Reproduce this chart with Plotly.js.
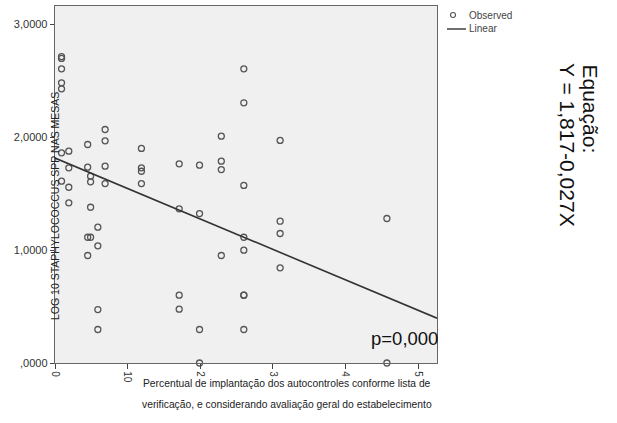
<!DOCTYPE html>
<html>
<head>
<meta charset="utf-8">
<script src="https://cdn.plot.ly/plotly-3.0.1.min.js"></script>
<style>html,body{margin:0;padding:0;background:#fff;}#chart{width:617px;height:423px;}</style>
</head>
<body>
<div id="chart"></div>
<script>
// Observed points (x = % implantação, y = log10 Staphylococcus spp)
const obsX = [
  0.9, 0.9, 0.9, 0.9, 0.9, 0.9, 0.9,
  1.9, 1.9, 1.9, 1.9,
  4.5, 4.5, 4.5, 4.5,
  4.9, 4.9, 4.9, 4.9,
  5.9, 5.9, 5.9, 5.9,
  6.9, 6.9, 6.9, 6.9,
  11.9, 11.9, 11.9, 11.9,
  17.1, 17.1, 17.1, 17.1,
  19.9, 19.9, 19.9, 19.9,
  22.9, 22.9, 22.9, 22.9,
  26.0, 26.0, 26.0, 26.0, 26.0, 26.0, 26.0, 26.0,
  31.0, 31.0, 31.0, 31.0,
  45.7, 45.7
];
const obsY = [
  2.717, 2.70, 2.608, 2.484, 2.431, 1.863, 1.612,
  1.878, 1.730, 1.558, 1.420,
  1.937, 1.736, 1.115, 0.953,
  1.656, 1.606, 1.381, 1.115,
  1.204, 1.039, 0.474, 0.297,
  2.070, 1.970, 1.745, 1.591,
  1.902, 1.730, 1.700, 1.591,
  1.766, 1.367, 0.601, 0.477,
  1.754, 1.325, 0.297, 0.0,
  2.011, 1.789, 1.715, 0.953,
  2.608, 2.307, 1.574, 1.115, 1.000, 0.601, 0.601, 0.297,
  1.973, 1.257, 1.148, 0.844,
  1.281, 0.0
];
// Linear fit line endpoints (Y = 1,817 - 0,027X)
const linX = [0, 52.6];
const linY = [1.817, 0.397];

const xTickVals = [0, 10, 20, 30, 40, 50];
const xTickText = ["0", "10", "20", "30", "40", "50"];
const yTickVals = [0, 1, 2, 3];
const yTickText = [",0000", "1,0000", "2,0000", "3,0000"];

const SANS = "'Liberation Sans', Arial, sans-serif";

const W = 617, H = 423, L = 55, R = 180, T = 6, B = 60;
const pw = W - L - R, ph = H - T - B;
const xp = px => (px - L) / pw;
const yp = py => (H - B - py) / ph;

const traces = [
  {
    x: obsX, y: obsY, type: 'scatter', mode: 'markers', name: 'Observed',
    marker: {symbol: 'circle-open', size: 6, color: '#555555', line: {width: 1.3, color: '#555555'}},
    cliponaxis: false, showlegend: false, hoverinfo: 'skip'
  },
  {
    x: linX, y: linY, type: 'scatter', mode: 'lines', name: 'Linear',
    line: {color: '#333333', width: 1.6}, showlegend: false, hoverinfo: 'skip'
  }
];

const layout = {
  width: W, height: H,
  margin: {l: L, r: R, t: T, b: B, pad: 0},
  paper_bgcolor: '#ffffff',
  plot_bgcolor: '#f0f0f0',
  font: {family: SANS, color: '#333'},
  showlegend: false,
  xaxis: {
    range: [0, 52.6], showgrid: false, zeroline: false,
    tickmode: 'array', tickvals: xTickVals, ticktext: xTickText,
    tickangle: 90, ticks: 'outside', ticklen: 5, tickcolor: '#444',
    tickfont: {size: 10, color: '#333', family: SANS},
    showline: true, linecolor: '#666', linewidth: 1.3, mirror: true
  },
  yaxis: {
    range: [0, 3.165], showgrid: false, zeroline: false,
    tickmode: 'array', tickvals: yTickVals, ticktext: yTickText,
    ticks: 'outside', ticklen: 4, tickcolor: '#444',
    tickfont: {size: 11, color: '#333', family: SANS},
    showline: true, linecolor: '#666', linewidth: 1.3, mirror: true
  },
  shapes: [
    {type: 'circle', xref: 'paper', yref: 'paper', x0: xp(450.5), x1: xp(455.5), y0: yp(17.5), y1: yp(12.5),
     line: {color: '#555', width: 1.1}},
    {type: 'line', xref: 'paper', yref: 'paper', x0: xp(447), x1: xp(466), y0: yp(29), y1: yp(29),
     line: {color: '#333', width: 1.4}}
  ],
  annotations: [
    {text: 'LOG 10 STAPHYLOCOCCUS SPP NAS MESAS', xref: 'paper', yref: 'paper', x: xp(55), y: yp(206),
     xanchor: 'center', yanchor: 'middle', textangle: -90, showarrow: false,
     font: {size: 10.5, color: '#222', family: SANS}},
    {text: 'Percentual de implantação dos autocontroles conforme lista de', xref: 'paper', yref: 'paper',
     x: xp(287), y: yp(383), xanchor: 'center', yanchor: 'middle', showarrow: false, bgcolor: '#ffffff',
     font: {size: 10.3, color: '#222', family: SANS}},
    {text: 'verificação, e considerando avaliação geral do estabelecimento', xref: 'paper', yref: 'paper',
     x: xp(287), y: yp(404), xanchor: 'center', yanchor: 'middle', showarrow: false,
     font: {size: 10.3, color: '#222', family: SANS}},
    {text: 'p=0,000', xref: 'paper', yref: 'paper', x: xp(440), y: yp(338), xanchor: 'right', yanchor: 'middle',
     showarrow: false, font: {size: 18.5, color: '#111', family: SANS}},
    {text: 'Observed', xref: 'paper', yref: 'paper', x: xp(467), y: yp(15), xanchor: 'left', yanchor: 'middle',
     showarrow: false, font: {size: 10, color: '#444', family: SANS}},
    {text: 'Linear', xref: 'paper', yref: 'paper', x: xp(467), y: yp(29), xanchor: 'left', yanchor: 'middle',
     showarrow: false, font: {size: 10, color: '#444', family: SANS}},
    {text: 'Equação:', xref: 'paper', yref: 'paper', x: xp(590), y: yp(62), xanchor: 'center', yanchor: 'top',
     textangle: 90, showarrow: false, font: {size: 21, color: '#111', family: SANS}},
    {text: 'Y = 1,817-0,027X', xref: 'paper', yref: 'paper', x: xp(568), y: yp(61), xanchor: 'center', yanchor: 'top',
     textangle: 90, showarrow: false, font: {size: 21, color: '#111', family: SANS}}
  ]
};

Plotly.newPlot('chart', traces, layout, {staticPlot: true, displayModeBar: false});
</script>
</body>
</html>
